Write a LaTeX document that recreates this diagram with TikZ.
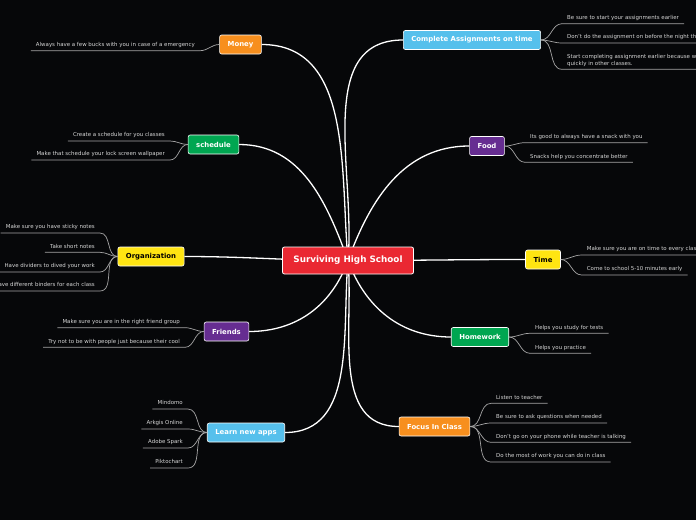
\documentclass[tikz,border=0pt]{standalone}
\usepackage{fontspec}
\setmainfont{DejaVu Sans}
\usetikzlibrary{positioning}
\definecolor{cBg}{RGB}{6,7,9}
\definecolor{cRed}{RGB}{234,40,50}
\definecolor{cOrange}{RGB}{247,143,30}
\definecolor{cGreen}{RGB}{0,166,81}
\definecolor{cYellow}{RGB}{255,229,18}
\definecolor{cPurple}{RGB}{102,45,145}
\definecolor{cBlue}{RGB}{86,192,236}
\definecolor{cLeaf}{RGB}{215,215,215}
\definecolor{cTwig}{RGB}{165,165,165}
\pgfdeclarelayer{bg}
\pgfdeclarelayer{wires}
\pgfsetlayers{bg,wires,main}
\tikzset{
	root/.style   ={rectangle, rounded corners=2pt, draw=white, line width=0.8pt, fill=cRed, text=white, font=\fontsize{8.8}{10}\selectfont\bfseries, minimum height=27pt, inner xsep=11pt},
	topic/.style  ={rectangle, rounded corners=2pt, draw=white, line width=0.6pt, text=white, font=\fontsize{6.9}{8}\selectfont\bfseries, minimum height=19pt, inner xsep=8pt},
	leaf/.style   ={text=cLeaf, font=\fontsize{5.45}{6.6}\selectfont, inner xsep=5pt, inner ysep=2.5pt, text depth=1.5pt, align=left},
	branch/.style ={white, line width=1.3pt},
	twig/.style   ={cTwig, line width=0.7pt},
}

\begin{document}
\begin{tikzpicture}[x=1pt, y=1pt]
	\begin{pgfonlayer}{bg}
		\fill[cBg] (0,0) rectangle (696,-520);
	\end{pgfonlayer}
	\useasboundingbox (0,0) rectangle (696,-520);
	\clip (0,0) rectangle (696,-520);

	% centre and main topics
	\node[root] (root) at (348,-260.5) {Surviving High School};
	\node[topic, fill=cOrange] (money) at (240.5,-44.5) {Money};
	\node[topic, fill=cGreen] (sched) at (213.5,-144.5) {schedule};
	\node[topic, fill=cYellow, text=black] (org) at (151,-256.5) {Organization};
	\node[topic, fill=cPurple] (friends) at (226.5,-331.5) {Friends};
	\node[topic, fill=cBlue] (apps) at (246,-432.5) {Learn new apps};
	\node[topic, fill=cBlue] (assign) at (472,-40) {Complete Assignments on time};
	\node[topic, fill=cPurple] (food) at (487,-146) {Food};
	\node[topic, fill=cYellow, text=black] (time) at (543,-259.5) {Time};
	\node[topic, fill=cGreen] (hw) at (480,-337) {Homework};
	\node[topic, fill=cOrange] (focus) at (434.5,-426.5) {Focus In Class};

	\begin{pgfonlayer}{wires}
		\draw[branch] (root.center) to[out=95,in=0] (money.east);
		\draw[branch] (root.center) to[out=110,in=0] (sched.east);
		\draw[branch] (root.center) to[out=180,in=0] (org.east);
		\draw[branch] (root.center) to[out=250,in=0] (friends.east);
		\draw[branch] (root.center) to[out=265,in=0] (apps.east);
		\draw[branch] (root.center) to[out=85,in=180] (assign.west);
		\draw[branch] (root.center) to[out=70,in=180] (food.west);
		\draw[branch] (root.center) to[out=0,in=180] (time.west);
		\draw[branch] (root.center) to[out=290,in=180] (hw.west);
		\draw[branch] (root.center) to[out=275,in=180] (focus.west);
	\end{pgfonlayer}

	% left leaves
	\node[leaf, anchor=south east] (m1) at (200,-50.7) {Always have a few bucks with you in case of a emergency};
	\node[leaf, anchor=south east] (s1) at (170,-141) {Create a schedule for you classes};
	\node[leaf, anchor=south east] (s2) at (170,-160) {Make that schedule your lock screen wallpaper};
	\node[leaf, anchor=south east] (o1) at (100,-233) {Make sure you have sticky notes};
	\node[leaf, anchor=south east] (o2) at (100,-252.3) {Take short notes};
	\node[leaf, anchor=south east] (o3) at (100,-272) {Have dividers to dived your work};
	\node[leaf, anchor=south east] (o4) at (100,-291) {Have different binders for each class};
	\node[leaf, anchor=south east] (f1) at (185,-327.7) {Make sure you are in the right friend group};
	\node[leaf, anchor=south east] (f2) at (185,-347.3) {Try not to be with people just because their cool};
	\node[leaf, anchor=south east] (a1) at (188,-409) {Mindomo};
	\node[leaf, anchor=south east] (a2) at (188,-429) {Arkgis Online};
	\node[leaf, anchor=south east] (a3) at (188,-448) {Adobe Spark};
	\node[leaf, anchor=south east] (a4) at (188,-468) {Piktochart};

	\draw[twig] (m1.south west) -- (m1.south east) to[out=0,in=180] (money.west);
	\foreach \l in {s1,s2}
		\draw[twig] (\l.south west) -- (\l.south east) to[out=0,in=180] (sched.west);
	\foreach \l in {o1,o2,o3,o4}
		\draw[twig] (\l.south west) -- (\l.south east) to[out=0,in=180] (org.west);
	\foreach \l in {f1,f2}
		\draw[twig] (\l.south west) -- (\l.south east) to[out=0,in=180] (friends.west);
	\foreach \l in {a1,a2,a3,a4}
		\draw[twig] (\l.south west) -- (\l.south east) to[out=0,in=180] (apps.west);

	% right leaves
	\node[leaf, anchor=south west] (c1) at (562,-23.7) {Be sure to start your assignments earlier};
	\node[leaf, anchor=south west] (c2) at (562,-43) {Don't do the assignment on before the night th};
	\node[leaf, anchor=south west] (c3) at (562,-69.3) {Start completing assignment earlier because w\\quickly in other classes.};
	\node[leaf, anchor=south west] (d1) at (525,-142.7) {Its good to always have a snack with you};
	\node[leaf, anchor=south west] (d2) at (525,-162.3) {Snacks help you concentrate better};
	\node[leaf, anchor=south west] (t1) at (581.7,-255) {Make sure you are on time to every class};
	\node[leaf, anchor=south west] (t2) at (581.7,-275) {Come to school 5-10 minutes early};
	\node[leaf, anchor=south west] (h1) at (530,-333.3) {Helps you study for tests};
	\node[leaf, anchor=south west] (h2) at (530,-353.3) {Helps you practice};
	\node[leaf, anchor=south west] (i1) at (491,-403.3) {Listen to teacher};
	\node[leaf, anchor=south west] (i2) at (491,-423) {Be sure to ask questions when needed};
	\node[leaf, anchor=south west] (i3) at (491,-442.3) {Don't go on your phone while teacher is talking};
	\node[leaf, anchor=south west] (i4) at (491,-462) {Do the most of work you can do in class};

	\foreach \l in {c1,c2,c3}
		\draw[twig] (assign.east) to[out=0,in=180] (\l.south west) -- (\l.south east);
	\foreach \l in {d1,d2}
		\draw[twig] (food.east) to[out=0,in=180] (\l.south west) -- (\l.south east);
	\foreach \l in {t1,t2}
		\draw[twig] (time.east) to[out=0,in=180] (\l.south west) -- (\l.south east);
	\foreach \l in {h1,h2}
		\draw[twig] (hw.east) to[out=0,in=180] (\l.south west) -- (\l.south east);
	\foreach \l in {i1,i2,i3,i4}
		\draw[twig] (focus.east) to[out=0,in=180] (\l.south west) -- (\l.south east);
\end{tikzpicture}
\end{document}
